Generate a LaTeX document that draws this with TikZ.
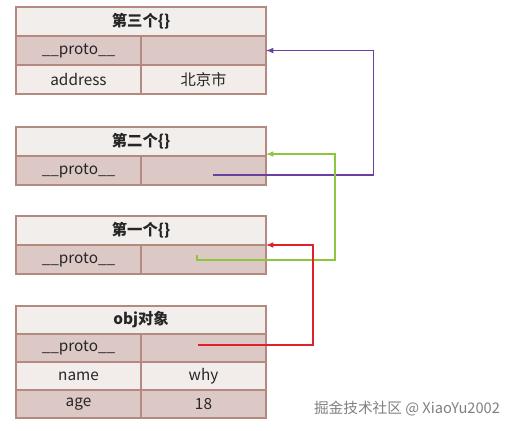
\documentclass[tikz,border=0pt]{standalone}
\usepackage{fontspec}
\setmainfont{Noto Sans CJK SC}
\usetikzlibrary{positioning}
\definecolor{cellborder}{HTML}{B48A80}
\definecolor{headfill}{HTML}{F2EEEC}
\definecolor{lightfill}{HTML}{F2ECEA}
\definecolor{darkfill}{HTML}{DCC8C4}
\definecolor{linkpurple}{HTML}{6B3FA0}
\definecolor{linkgreen}{HTML}{8CC63F}
\definecolor{linkred}{HTML}{E0202A}
\begin{document}
\begin{tikzpicture}[x=0.75pt, y=-0.75pt,
		cell/.style={draw=cellborder, line width=0.9pt, minimum width=93.75pt,
		minimum height=21.75pt, inner sep=0pt, outer sep=0pt,
		font=\fontsize{11.5}{13}\selectfont, text=black!85},
		headcell/.style={cell, fill=headfill, minimum width=187.5pt,
		font=\fontsize{11.5}{13}\selectfont\bfseries},
		lightcell/.style={cell, fill=lightfill},
		darkcell/.style={cell, fill=darkfill},
		link/.style={-latex, line width=0.9pt}
		]
		\useasboundingbox (0,0) rectangle (522,430);
		
		\node[headcell, anchor=north](H3) at (141,7){第三个\{\}};
		\node[darkcell, below right=0pt and 0pt of H3.south west](K3){\_\_proto\_\_};
		\node[darkcell, right=0pt of K3](V3){};
		\node[lightcell, below=0pt of K3](A3){address};
		\node[lightcell, below=0pt of V3](B3){北京市};
		
		\node[headcell, anchor=north](H2) at (141,127){第二个\{\}};
		\node[darkcell, below right=0pt and 0pt of H2.south west](K2){\_\_proto\_\_};
		\node[darkcell, right=0pt of K2](V2){};
		
		\node[headcell, anchor=north](H1) at (141,216){第一个\{\}};
		\node[darkcell, below right=0pt and 0pt of H1.south west](K1){\_\_proto\_\_};
		\node[darkcell, right=0pt of K1](V1){};
		
		\node[headcell, anchor=north, minimum height=21pt](H0) at (141,306){obj对象};
		\node[darkcell, minimum height=21pt, below right=0pt and 0pt of H0.south west](K0){\_\_proto\_\_};
		\node[darkcell, minimum height=21pt, right=0pt of K0](V0){};
		\node[lightcell, minimum height=21pt, below=0pt of K0](N0){name};
		\node[lightcell, minimum height=21pt, below=0pt of V0](W0){why};
		\node[darkcell, minimum height=21pt, below=0pt of N0](G0){age};
		\node[darkcell, minimum height=21pt, below=0pt of W0](E0){18};
		
		\coordinate (p2) at ([xshift=7pt, yshift=-3.4pt]V2.center);
		\coordinate (g1) at ([xshift=-4.9pt, yshift=3.4pt]V1.center);
		\coordinate (r0) at ([xshift=-4.1pt, yshift=2.25pt]V0.center);
		\draw[link, linkpurple] (p2) -- ++(161,0) |- (V3.east);
		\draw[link, linkgreen] (g1) -- ++(0,5) -- ++(138,0) |- ([yshift=1.5pt]V2.north east);
		\draw[link, linkred] (r0) -- ++(115,0) |- (V1.north east);
		
		\node[font=\fontsize{11}{13}\selectfont, text=black!50](WM) at (407,409){掘金技术社区 @ XiaoYu2002};
	\end{tikzpicture}
\end{document}
